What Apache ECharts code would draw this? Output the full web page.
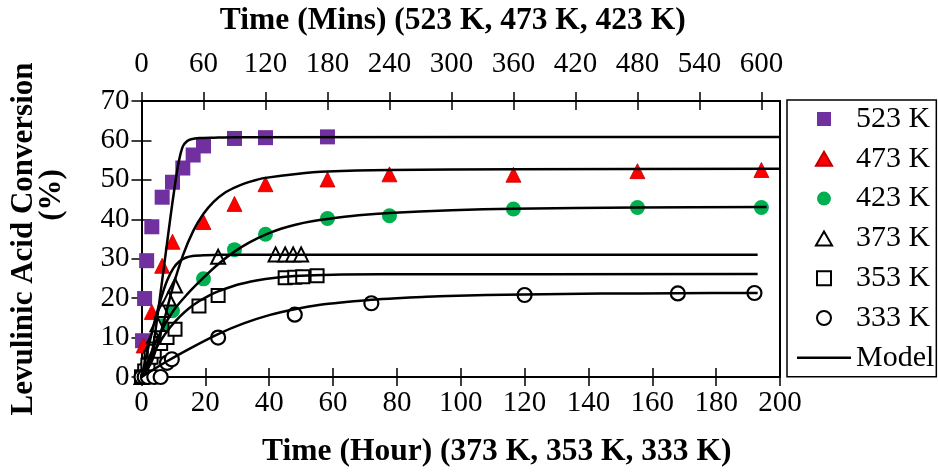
<!DOCTYPE html>
<html>
<head>
<meta charset="utf-8">
<script src="https://cdn.jsdelivr.net/npm/echarts@6/dist/echarts.min.js"></script>
<style>
  html, body { margin: 0; padding: 0; background: #fff; }
  #chart { width: 938px; height: 473px; }
</style>
</head>
<body>
<div id="chart"></div>
<script>
// ---- Tick labels ----
const hourTicks = [0, 20, 40, 60, 80, 100, 120, 140, 160, 180, 200];
const minuteTicks = [0, 60, 120, 180, 240, 300, 360, 420, 480, 540, 600];
const conversionTicks = [0, 10, 20, 30, 40, 50, 60, 70];

// ---- Experimental data, minutes (523 K, 473 K, 423 K) ----
const t523 = [0, 1, 3, 5, 10, 20, 30, 40, 50, 60, 90, 120, 180];
const y523 = [0, 9.2, 19.9, 29.5, 38.1, 45.6, 49.4, 53.0, 56.3, 58.6, 60.5, 60.7, 60.9];

const t473 = [0, 2, 10, 20, 30, 60, 90, 120, 180, 240, 360, 480, 600];
const y473 = [0, 8.0, 16.5, 28.2, 34.3, 39.3, 43.9, 48.9, 50.1, 51.4, 51.3, 52.2, 52.5];

const t423 = [0, 10, 20, 30, 60, 90, 120, 180, 240, 360, 480, 600];
const y423 = [0, 6.3, 13.0, 16.8, 24.9, 32.3, 36.2, 40.2, 40.9, 42.6, 43.0, 43.0];

// ---- Experimental data, hours (373 K, 353 K, 333 K) ----
const t373 = [0, 1, 2, 3, 4, 5, 6.5, 8.5, 10.5, 24, 42, 45, 47.5, 50];
const y373 = [0, 2.0, 5.0, 8.0, 10.5, 13.4, 17.0, 19.9, 23.2, 30.5, 31.1, 31.1, 31.1, 31.1];

const t353 = [0, 1, 2, 3, 4, 6, 8, 10.5, 18, 24, 45, 48, 50.5, 55];
const y353 = [0, 1.5, 3.0, 5.0, 6.5, 8.5, 10.0, 12.1, 18.0, 20.7, 25.2, 25.3, 25.4, 25.7];

const t333 = [0, 1, 2, 4, 6, 8, 9.5, 24, 48, 72, 120, 168, 192];
const y333 = [0, 0, 0, 0, 0, 3.6, 4.5, 10.0, 15.8, 18.7, 20.8, 21.2, 21.3];

// ---- Model curves ----
const m523t = [0, 4, 8, 12, 16, 20, 24, 28, 32, 36, 40, 44, 48, 56, 70, 90, 618];
const m523y = [0, 1.0, 3.5, 9.0, 16.5, 24.5, 32.5, 40.5, 48.0, 54.5, 58.5, 59.8, 60.3, 60.6, 60.7, 60.8, 60.9];

const m473t = [0, 10, 20, 30, 40, 50, 60, 70, 80, 90, 100, 110, 120, 150, 180, 240, 360, 618];
const m473y = [0, 4.0, 12.5, 22.5, 30.8, 37.0, 41.4, 44.5, 46.6, 48.0, 49.1, 49.9, 50.5, 51.5, 52.1, 52.5, 52.7, 52.8];

const m423t = [0, 15, 30, 45, 60, 75, 90, 105, 120, 135, 150, 165, 180, 210, 240, 300, 360, 480, 605];
const m423y = [0, 9.5, 16.5, 21.2, 25.2, 28.8, 31.8, 34.2, 36.1, 37.6, 38.7, 39.5, 40.1, 41.0, 41.6, 42.3, 42.7, 43.0, 43.1];

const m373t = [0, 2, 4, 6, 8, 10, 12, 14, 16, 20, 25, 30, 193];
const m373y = [0, 7.0, 13.8, 19.6, 24.4, 27.6, 29.4, 30.3, 30.7, 30.9, 31.0, 31.0, 31.0];

const m353t = [0, 3, 6, 9, 12, 15, 18, 21, 24, 30, 36, 42, 48, 60, 75, 193];
const m353y = [0, 5.0, 9.2, 12.6, 15.3, 17.5, 19.2, 20.6, 21.7, 23.4, 24.5, 25.2, 25.6, 25.95, 26.05, 26.1];

const m333t = [0, 8, 16, 24, 32, 40, 48, 56, 64, 72, 80, 88, 96, 120, 144, 168, 193];
const m333y = [0, 4.0, 7.6, 10.9, 13.6, 15.7, 17.2, 18.3, 19.0, 19.6, 20.0, 20.3, 20.55, 20.95, 21.15, 21.25, 21.3];

const FONT = '"Liberation Serif", "Times New Roman", serif';
const pairs = (xs, ys) => xs.map((x, i) => [x, ys[i]]);

// legend glyphs (drawn with kept aspect ratio)
const SQUARE = 'path://M0,0L10,0L10,10L0,10Z';
const TRIANGLE = 'path://M5,0L10,8.66L0,8.66Z';
const BAR = 'path://M0,0L54,0L54,2.6L0,2.6Z';

function filledScatter(name, xs, ys, axis, symbol, size, color, border) {
  return {
    name, type: 'scatter', xAxisIndex: axis, yAxisIndex: 0,
    symbol, symbolSize: size, data: pairs(xs, ys), z: 3,
    itemStyle: { color, borderColor: border || color, borderWidth: border ? 0.8 : 0, opacity: 1 }
  };
}
function openScatter(name, xs, ys, axis, symbol, size, bw) {
  return {
    name, type: 'scatter', xAxisIndex: axis, yAxisIndex: 0,
    symbol, symbolSize: size, data: pairs(xs, ys), z: 3,
    itemStyle: { color: '#fff', borderColor: '#000', borderWidth: bw, opacity: 1 }
  };
}
function model(xs, ys, axis) {
  return {
    name: 'Model', type: 'line', xAxisIndex: axis, yAxisIndex: 0,
    data: pairs(xs, ys), showSymbol: false, symbol: 'none',
    smooth: 0.3, z: 5,
    lineStyle: { color: '#000', width: 2.5 }, itemStyle: { color: '#000' }
  };
}

const axisLineStyle = { show: true, onZero: false, lineStyle: { color: '#000', width: 2 } };
const tickStyle = { color: '#000', width: 1.5 };
const labelStyle = { fontFamily: FONT, fontSize: 29, color: '#000' };
const nameStyle = { fontFamily: FONT, fontSize: 31.5, fontWeight: 'bold', color: '#000' };

const chart = echarts.init(document.getElementById('chart'), null, { renderer: 'canvas' });

chart.setOption({
  backgroundColor: '#fff',
  animation: false,
  grid: { left: 137.7, right: 158, top: 100, bottom: 91, containLabel: false },
  xAxis: [
    { // hours, bottom
      type: 'value', position: 'bottom', min: 0, max: 200, interval: 20,
      axisLine: axisLineStyle,
      axisTick: { show: true, inside: false, length: 9, lineStyle: tickStyle, customValues: hourTicks },
      axisLabel: Object.assign({ margin: 12, customValues: hourTicks }, labelStyle),
      splitLine: { show: false },
      name: 'Time (Hour) (373 K, 353 K, 333 K)', nameLocation: 'middle', nameGap: 59,
      nameTextStyle: Object.assign({ padding: [0, 0, 0, 72] }, nameStyle)
    },
    { // minutes, top
      type: 'value', position: 'top', min: 0, max: 618,
      axisLine: axisLineStyle,
      axisTick: { show: true, inside: false, length: 9, lineStyle: tickStyle, customValues: minuteTicks },
      axisLabel: Object.assign({ margin: 22, customValues: minuteTicks }, labelStyle),
      splitLine: { show: false },
      name: 'Time (Mins) (523 K, 473 K, 423 K)', nameLocation: 'middle', nameGap: 64,
      nameTextStyle: Object.assign({ padding: [0, 16, 0, 0] }, nameStyle)
    },
    { // inner half of the crossing ticks, bottom
      type: 'value', position: 'bottom', min: 0, max: 200, interval: 20,
      axisLine: { show: false, onZero: false },
      axisTick: { show: true, inside: true, length: 9, lineStyle: tickStyle, customValues: hourTicks },
      axisLabel: { show: false }, splitLine: { show: false }
    },
    { // inner half of the crossing ticks, top
      type: 'value', position: 'top', min: 0, max: 618,
      axisLine: { show: false, onZero: false },
      axisTick: { show: true, inside: true, length: 9, lineStyle: tickStyle, customValues: minuteTicks },
      axisLabel: { show: false }, splitLine: { show: false }
    }
  ],
  yAxis: [
    {
      type: 'value', position: 'left', min: 0, max: 70, interval: 10,
      axisLine: axisLineStyle,
      axisTick: { show: true, inside: false, length: 10, lineStyle: tickStyle, customValues: conversionTicks },
      axisLabel: Object.assign({ margin: 12, customValues: conversionTicks }, labelStyle),
      splitLine: { show: false },
      name: 'Levulinic Acid Conversion\n{u|(%)}', nameLocation: 'middle', nameGap: 76, nameRotate: 90,
      nameTextStyle: Object.assign({ lineHeight: 28, align: 'center' }, nameStyle, {
        fontSize: 31,
        rich: {
          u: { fontFamily: FONT, fontSize: 31, fontWeight: 'bold', color: '#000', lineHeight: 28, padding: [0, 0, 0, 88] }
        }
      })
    },
    {
      type: 'value', position: 'left', min: 0, max: 70, interval: 10,
      axisLine: { show: false, onZero: false },
      axisTick: { show: true, inside: true, length: 10, lineStyle: tickStyle, customValues: conversionTicks },
      axisLabel: { show: false }, splitLine: { show: false }
    },
    {
      type: 'value', position: 'right', min: 0, max: 70, interval: 10,
      axisLine: axisLineStyle,
      axisTick: { show: false }, axisLabel: { show: false }, splitLine: { show: false }
    }
  ],
  legend: {
    orient: 'vertical', left: 787, top: 100,
    data: [
      { name: '523 K', icon: SQUARE },
      { name: '473 K', icon: TRIANGLE },
      { name: '423 K', icon: 'circle' },
      { name: '373 K', icon: TRIANGLE },
      { name: '353 K', icon: SQUARE },
      { name: '333 K', icon: 'circle' },
      { name: 'Model', icon: BAR }
    ],
    itemWidth: 54, itemHeight: 14, itemGap: 9.8, symbolKeepAspect: true,
    padding: [4, 2, 4, 10],
    borderColor: '#000', borderWidth: 1.5, backgroundColor: '#fff',
    textStyle: { fontFamily: FONT, fontSize: 30, color: '#000', lineHeight: 30 },
    selectedMode: false
  },
  series: [
    filledScatter('523 K', t523, y523, 1, 'rect', 15, '#7030A0'),
    filledScatter('473 K', t473, y473, 1, 'triangle', 15, '#FF0000', '#C00000'),
    filledScatter('423 K', t423, y423, 1, 'circle', 15, '#00B050'),
    openScatter('373 K', t373, y373, 0, 'triangle', 14, 2),
    openScatter('353 K', t353, y353, 0, 'rect', 13, 2),
    openScatter('333 K', t333, y333, 0, 'circle', 14, 2.2),
    model(m523t, m523y, 1),
    model(m473t, m473y, 1),
    model(m423t, m423y, 1),
    model(m373t, m373y, 0),
    model(m353t, m353y, 0),
    model(m333t, m333y, 0)
  ]
});
</script>
</body>
</html>
